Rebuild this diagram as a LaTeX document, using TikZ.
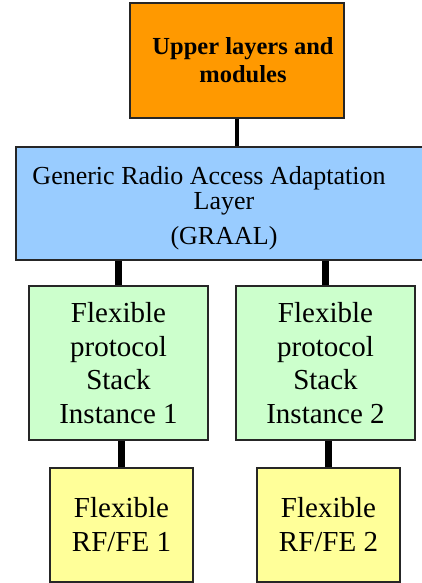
\documentclass[tikz,border=0pt]{standalone}
\usepackage{fontspec}
\setmainfont{Liberation Serif}
\usetikzlibrary{calc,positioning,shapes}
\definecolor{upperorange}{RGB}{255,153,0}
\definecolor{graalblue}{RGB}{153,204,255}
\definecolor{stackgreen}{RGB}{204,255,204}
\definecolor{rfyellow}{RGB}{255,255,153}
\tikzset{
  box/.style={
    rectangle,
    draw=black!85, line width=1.6pt,
    inner sep=0pt,
    align=center},
  upperbox/.style={
    box,
    fill=upperorange,
    minimum width=214pt,
    minimum height=115pt,
    font=\fontsize{24.5}{28}\selectfont\bfseries},
  graalbox/.style={
    box,
    fill=graalblue,
    minimum width=416pt,
    minimum height=113pt,
    font=\fontsize{26}{25}\selectfont},
  stackbox/.style={
    box,
    fill=stackgreen,
    minimum width=179pt,
    minimum height=154pt,
    font=\fontsize{29}{33.7}\selectfont},
  rfbox/.style={
    box,
    fill=rfyellow,
    minimum width=143pt,
    minimum height=114pt,
    font=\fontsize{29}{34}\selectfont},
  thinlink/.style={draw=black, line width=4pt},
  link/.style={draw=black, line width=7pt},
}
\begin{document}
\begin{tikzpicture}[x=1pt,y=-1pt]
\useasboundingbox (0,0) rectangle (422,583);

\node[upperbox] (Upper) at (237,60.5)
  {\hspace*{12pt}Upper layers and\\\hspace*{12pt}modules};
\node[graalbox] (Graal) at (224,203.5)
  {\rule{0pt}{28pt}Generic Radio Access Adaptation\hspace*{30pt}\\Layer\\[10pt](GRAAL)};

\node[stackbox] (Stack1) at (118.5,363) {Flexible\\protocol\\Stack\\Instance 1};
\node[stackbox] (Stack2) at (325.5,363) {Flexible\\protocol\\Stack\\Instance 2};

\node[rfbox] (RF1) at (121.5,525) {Flexible\\RF/FE 1};
\node[rfbox] (RF2) at (328.5,525) {Flexible\\RF/FE 2};

% links between the layers
\draw[thinlink] (Upper.south) -- (Upper.south |- Graal.north);
\draw[link] (Stack1.north) -- (Stack1.north |- Graal.south);
\draw[link] (Stack2.north) -- (Stack2.north |- Graal.south);
\draw[link] (RF1.north) -- (RF1.north |- Stack1.south);
\draw[link] (RF2.north) -- (RF2.north |- Stack2.south);

\end{tikzpicture}
\end{document}
